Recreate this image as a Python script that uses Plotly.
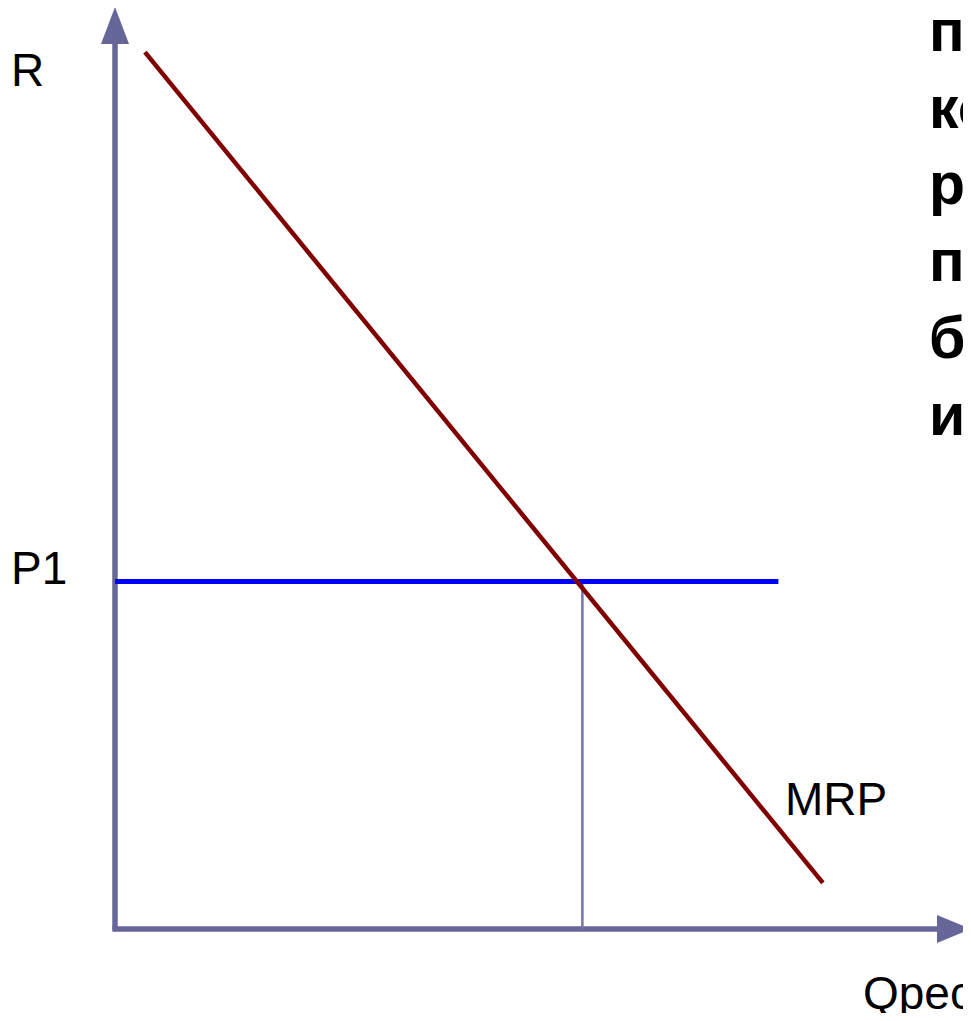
import plotly.graph_objects as go

# ---- data (schematic units: Q axis 0..100, R axis 0..100) ----
mrp_q = [3.5, 82.7]
mrp_r = [95.1, 5.0]
p1_level = 37.7
p1_q_end = 77.5
q_star = 54.6
axis_q_max = 100.0
axis_r_max = 100.0
side_text_lines = ["п", "ко", "ре", "п", "бу", "из"]

# ---- layout scale (page body has an 8px margin) ----
OFF = 8
W, H = 971 - OFF, 1021 - 2 * OFF
ox, oy = 115 - OFF, 929 - OFF   # origin pixel inside figure
sx, sy = 8.56, 9.22             # px per unit
xr = [-ox / sx, (W - ox) / sx]
yr = [(oy - H) / sy, oy / sy]


def px_x(X):
    """reference page x pixel -> data x"""
    return (X - OFF - ox) / sx


def px_y(Y):
    """reference page y pixel -> data y"""
    return (oy - (Y - OFF)) / sy


axis_col = "#666699"
font_fam = "Liberation Sans, Arial, sans-serif"

fig = go.Figure()

head_len = 37
head_half = 14

# vertical axis
fig.add_trace(go.Scatter(x=[0, 0], y=[-0.15, axis_r_max - head_len / sy + 0.5], mode="lines",
                         line=dict(color=axis_col, width=5.5), hoverinfo="skip", showlegend=False))
fig.add_trace(go.Scatter(x=[-head_half / sx, 0, head_half / sx, -head_half / sx],
                         y=[axis_r_max - head_len / sy, axis_r_max, axis_r_max - head_len / sy, axis_r_max - head_len / sy],
                         mode="lines", fill="toself", fillcolor=axis_col,
                         line=dict(color=axis_col, width=0), hoverinfo="skip", showlegend=False))
# horizontal axis
fig.add_trace(go.Scatter(x=[-0.3, axis_q_max - 34 / sx + 0.5], y=[0, 0], mode="lines",
                         line=dict(color=axis_col, width=5.5), hoverinfo="skip", showlegend=False))
fig.add_trace(go.Scatter(x=[axis_q_max - 34 / sx, axis_q_max, axis_q_max - 34 / sx, axis_q_max - 34 / sx],
                         y=[head_half / sy, 0, -head_half / sy, head_half / sy],
                         mode="lines", fill="toself", fillcolor=axis_col,
                         line=dict(color=axis_col, width=0), hoverinfo="skip", showlegend=False))

# vertical drop line at intersection
fig.add_trace(go.Scatter(x=[q_star, q_star], y=[0, p1_level], mode="lines",
                         line=dict(color="#7474aa", width=2.5), hoverinfo="skip", showlegend=False))
# P1 horizontal line
fig.add_trace(go.Scatter(x=[0, p1_q_end], y=[p1_level, p1_level], mode="lines",
                         line=dict(color="#0000ff", width=5), hoverinfo="skip", showlegend=False))
# MRP line
fig.add_trace(go.Scatter(x=mrp_q, y=mrp_r, mode="lines",
                         line=dict(color="#800000", width=4.5), hoverinfo="skip", showlegend=False))

lab_font = dict(family=font_fam, size=46, color="#000000")
fig.add_annotation(x=px_x(9), y=px_y(70), text="R", showarrow=False,
                   xanchor="left", yanchor="middle", font=lab_font)
fig.add_annotation(x=px_x(9), y=px_y(568), text="P1", showarrow=False,
                   xanchor="left", yanchor="middle", font=lab_font)
fig.add_annotation(x=px_x(783), y=px_y(799), text="MRP", showarrow=False,
                   xanchor="left", yanchor="middle", font=lab_font)
fig.add_annotation(x=px_x(861), y=px_y(993), text="Qрес", showarrow=False,
                   xanchor="left", yanchor="middle", font=lab_font)

fig.add_annotation(x=(927 - OFF) / W, y=1 + 12 / H, xref="paper", yref="paper",
                   text="<br>".join("<b>%s</b>" % s for s in side_text_lines),
                   showarrow=False, xanchor="left", yanchor="top", align="left",
                   font=dict(family=font_fam, size=59, color="#000000"))

fig.update_layout(
    width=W, height=H, margin=dict(l=0, r=0, t=0, b=0),
    paper_bgcolor="white", plot_bgcolor="white",
    xaxis=dict(range=xr, visible=False, fixedrange=True),
    yaxis=dict(range=yr, visible=False, fixedrange=True),
    showlegend=False,
)
fig.write_html("out.html")
